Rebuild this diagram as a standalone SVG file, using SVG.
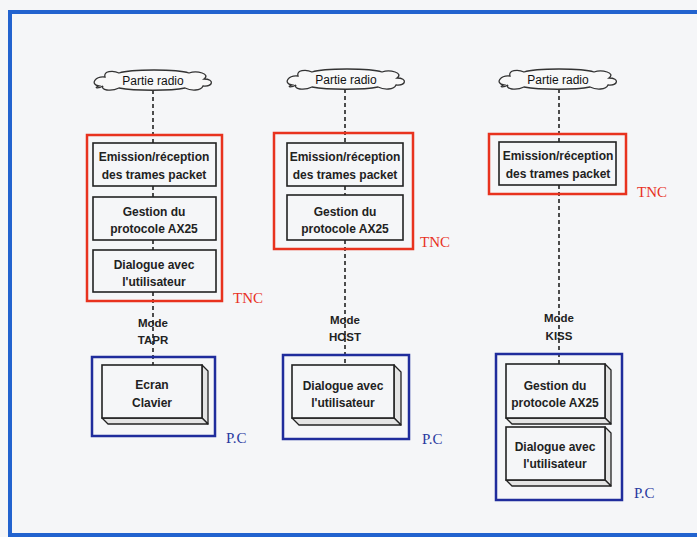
<svg xmlns="http://www.w3.org/2000/svg" width="697" height="537" viewBox="0 0 697 537">
<defs>
<style>
.bg{fill:#f5f6f8}
.frame{fill:none;stroke:#2263cf;stroke-width:4}
.cloud{fill:#f8f8f8;stroke:#333;stroke-width:1.3}
.dash{stroke:#222;stroke-width:1.6;stroke-dasharray:4 3;fill:none}
.tnc{fill:none;stroke:#e8321e;stroke-width:2.5}
.pc{fill:none;stroke:#1f2c9c;stroke-width:2.5}
.box{fill:#f5f6f8;stroke:#222;stroke-width:1.6}
.face{fill:#e4e4e4;stroke:#222;stroke-width:1.3;stroke-linejoin:round}
.t{font-family:"Liberation Sans",Arial,sans-serif;font-size:12px;font-weight:bold;fill:#222;text-anchor:middle}
.cl{font-family:"Liberation Sans",Arial,sans-serif;font-size:12px;fill:#111;text-anchor:middle}
.m{font-family:"Liberation Sans",Arial,sans-serif;font-size:11.5px;font-weight:bold;fill:#222;text-anchor:middle}
.lr{font-family:"Liberation Serif","Times New Roman",serif;font-size:15px;fill:#e8321e}
.lb{font-family:"Liberation Serif","Times New Roman",serif;font-size:15px;fill:#2a3aa0}
</style>
<path id="cloudshape" d="M-54,5 C-64,3 -57,-5 -48,-4 C-50,-10 -40,-11 -34,-8 C-22,-12 24,-12 36,-8 C44,-11 58,-7 51,-2 C62,-2 60,6 50,5 C48,10 38,10 32,7 C18,10 -18,10 -34,7 C-42,11 -53,9 -50,5 C-55,8 -60,7 -54,5 Z"/>
</defs>
<rect class="bg" x="0" y="0" width="697" height="537"/>
<rect class="frame" x="10" y="12" width="700" height="523"/>

<g id="connectors">
<line class="dash" x1="153" y1="90" x2="153" y2="143"/>
<line class="dash" x1="153" y1="186" x2="153" y2="197"/>
<line class="dash" x1="153" y1="240" x2="153" y2="250"/>
<line class="dash" x1="153" y1="292" x2="153" y2="365"/>
<line class="dash" x1="345" y1="89" x2="345" y2="143"/>
<line class="dash" x1="345" y1="186" x2="345" y2="195"/>
<line class="dash" x1="345" y1="240" x2="345" y2="365"/>
<line class="dash" x1="559" y1="89" x2="559" y2="142"/>
<line class="dash" x1="559" y1="185" x2="559" y2="364"/>
</g>

<g id="radio1"><use href="#cloudshape" class="cloud" transform="translate(153,81)"/><text class="cl" x="153" y="85">Partie radio</text></g>
<g id="radio2"><use href="#cloudshape" class="cloud" transform="translate(346,80)"/><text class="cl" x="346" y="84">Partie radio</text></g>
<g id="radio3"><use href="#cloudshape" class="cloud" transform="translate(558,80)"/><text class="cl" x="558" y="84">Partie radio</text></g>

<g id="tnc1"><rect class="tnc" x="87" y="135" width="135" height="166"/><text class="lr" x="233" y="303">TNC</text></g>
<g id="c1-emission"><rect class="box" x="93" y="143" width="123" height="43"/><text class="t" x="154" y="161">Emission/réception</text><text class="t" x="154" y="179">des trames packet</text></g>
<g id="c1-gestion"><rect class="box" x="93" y="197" width="123" height="43"/><text class="t" x="154" y="216">Gestion du</text><text class="t" x="154" y="233">protocole AX25</text></g>
<g id="c1-dialogue"><rect class="box" x="93" y="250" width="123" height="42"/><text class="t" x="154" y="269">Dialogue avec</text><text class="t" x="154" y="286">l'utilisateur</text></g>
<g id="mode1"><text class="m" x="153" y="327">Mode</text><text class="m" x="153" y="344">TAPR</text></g>
<g id="pc1"><rect class="pc" x="92" y="357" width="123" height="79"/><text class="lb" x="226" y="443">P.C</text></g>
<g id="c1-ecran"><polygon class="face" points="202,365 208,371 208,424 202,418"/><polygon class="face" points="102,418 108,424 208,424 202,418"/><rect class="box" x="102" y="365" width="100" height="53"/><text class="t" x="152" y="389">Ecran</text><text class="t" x="152" y="407">Clavier</text></g>

<g id="tnc2"><rect class="tnc" x="274" y="133" width="139" height="116"/><text class="lr" x="420" y="247">TNC</text></g>
<g id="c2-emission"><rect class="box" x="287" y="143" width="116" height="43"/><text class="t" x="345" y="161">Emission/réception</text><text class="t" x="345" y="179">des trames packet</text></g>
<g id="c2-gestion"><rect class="box" x="287" y="195" width="116" height="45"/><text class="t" x="345" y="216">Gestion du</text><text class="t" x="345" y="233">protocole AX25</text></g>
<g id="mode2"><text class="m" x="345" y="324">Mode</text><text class="m" x="345" y="341">HOST</text></g>
<g id="pc2"><rect class="pc" x="283" y="355" width="126" height="84"/><text class="lb" x="422" y="444">P.C</text></g>
<g id="c2-dialogue"><polygon class="face" points="394,365 401,372 401,425 394,418"/><polygon class="face" points="292,418 299,425 401,425 394,418"/><rect class="box" x="292" y="365" width="102" height="53"/><text class="t" x="343" y="390">Dialogue avec</text><text class="t" x="343" y="407">l'utilisateur</text></g>

<g id="tnc3"><rect class="tnc" x="489" y="134" width="137" height="60"/><text class="lr" x="637" y="197">TNC</text></g>
<g id="c3-emission"><rect class="box" x="499" y="142" width="117" height="43"/><text class="t" x="558" y="160">Emission/réception</text><text class="t" x="558" y="178">des trames packet</text></g>
<g id="mode3"><text class="m" x="559" y="322">Mode</text><text class="m" x="559" y="340">KISS</text></g>
<g id="pc3"><rect class="pc" x="496" y="354" width="126" height="146"/><text class="lb" x="634" y="498">P.C</text></g>
<g id="c3-gestion"><polygon class="face" points="605,364 611,370 611,424 605,418"/><polygon class="face" points="506,418 512,424 611,424 605,418"/><rect class="box" x="506" y="364" width="99" height="54"/><text class="t" x="555" y="390">Gestion du</text><text class="t" x="555" y="407">protocole AX25</text></g>
<g id="c3-dialogue"><polygon class="face" points="605,427 611,433 611,486 605,480"/><polygon class="face" points="506,480 512,486 611,486 605,480"/><rect class="box" x="506" y="427" width="99" height="53"/><text class="t" x="555" y="451">Dialogue avec</text><text class="t" x="555" y="468">l'utilisateur</text></g>
</svg>
